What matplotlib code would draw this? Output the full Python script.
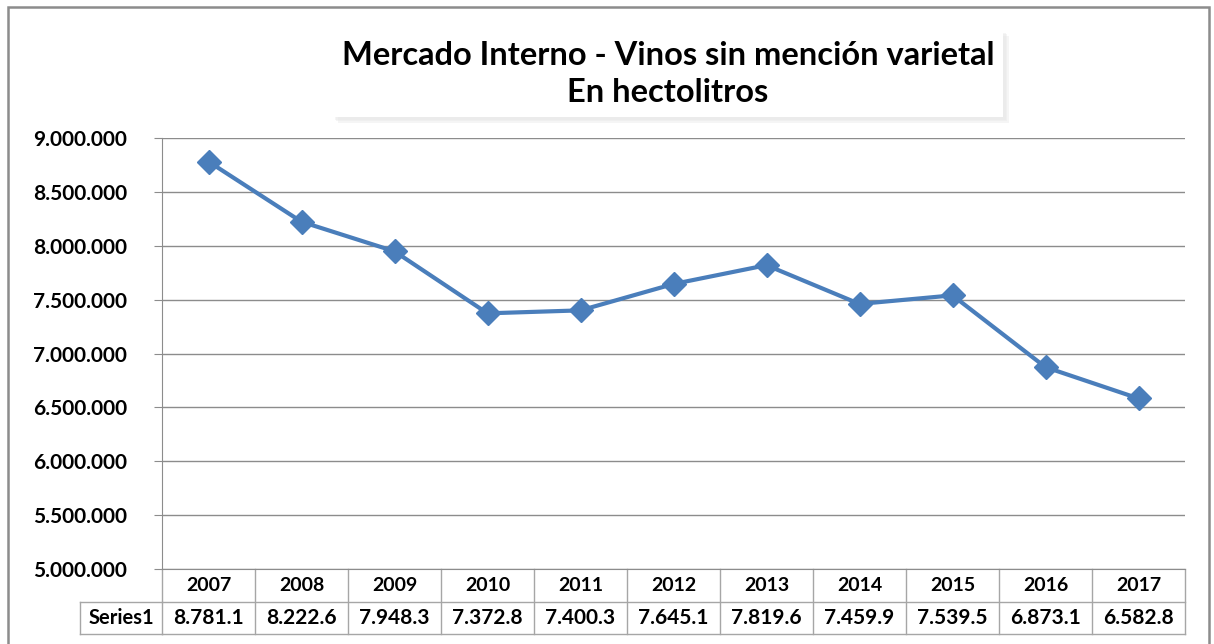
import matplotlib
matplotlib.use("Agg")
import matplotlib.pyplot as plt
import matplotlib.patheffects as pe
from matplotlib.patches import Rectangle
from matplotlib.ticker import FuncFormatter
import matplotlib.transforms as mtransforms

# Data
years = ["2007", "2008", "2009", "2010", "2011", "2012", "2013", "2014", "2015", "2016", "2017"]
values = [8781100, 8222600, 7948300, 7372800, 7400300, 7645100, 7819600, 7459900, 7539500, 6873100, 6582800]
table_labels = ["8.781.1", "8.222.6", "7.948.3", "7.372.8", "7.400.3", "7.645.1",
                "7.819.6", "7.459.9", "7.539.5", "6.873.1", "6.582.8"]
series_name = "Series1"
title_lines = "Mercado Interno - Vinos sin mención varietal\nEn hectolitros"

plt.rcParams['font.family'] = ['Lato', 'DejaVu Sans']

W, H = 1214, 644
fig = plt.figure(figsize=(W / 100, H / 100), dpi=100)

# outer chart border
fig.patches.append(Rectangle((8 / W, -0.02), 1201 / W, 1 - 7 / H + 0.02, transform=fig.transFigure,
                             fill=False, edgecolor="#8c8c8c", lw=1.8))

left, right, top, bottom = 162, 1185, 138, 569
ax = fig.add_axes([left / W, 1 - bottom / H, (right - left) / W, (bottom - top) / H])

x = list(range(len(years)))
ax.plot(x, values, color="#4A7EBB", lw=3, marker="D", markersize=12, zorder=3)

ax.set_xlim(-0.5, len(years) - 0.5)
ax.set_ylim(5000000, 9000000)
ax.set_yticks(range(5000000, 9000001, 500000))
ax.yaxis.set_major_formatter(FuncFormatter(lambda v, p: "{:,.0f}".format(v).replace(",", ".")))
ax.grid(axis="y", color="#8c8c8c", lw=1)
ax.set_axisbelow(True)
ax.tick_params(axis="y", length=6, color="#8c8c8c", labelsize=15, pad=19)
for lab in ax.get_yticklabels():
    lab.set_fontweight("bold")
ax.set_xticks([])
for s in ["top", "right"]:
    ax.spines[s].set_visible(False)
ax.spines["left"].set_color("#8c8c8c")
ax.spines["bottom"].set_color("#8c8c8c")

# data table below the axes
trans = mtransforms.blended_transform_factory(ax.transData, ax.transAxes)
ah = bottom - top
row1 = (602 - bottom) / ah
row2 = (634 - bottom) / ah
gc = "#a6a6a6"
n = len(years)
for i in range(n + 1):
    xe = i - 0.5
    ax.plot([xe, xe], [0, -row2], transform=trans, color=gc, lw=1, clip_on=False)
ax.plot([-0.5, n - 0.5], [-row1, -row1], transform=trans, color=gc, lw=1, clip_on=False)
ax.plot([-0.5, n - 0.5], [-row2, -row2], transform=trans, color=gc, lw=1, clip_on=False)
# series label cell
cell_w = (left - 80) / ((right - left) / n)
ax.plot([-0.5 - cell_w, -0.5], [-row1, -row1], transform=trans, color=gc, lw=1, clip_on=False)
ax.plot([-0.5 - cell_w, -0.5], [-row2, -row2], transform=trans, color=gc, lw=1, clip_on=False)
ax.plot([-0.5 - cell_w, -0.5 - cell_w], [-row1, -row2], transform=trans, color=gc, lw=1, clip_on=False)
ax.text(-0.5 - cell_w / 2, -(row1 + row2) / 2, series_name, transform=trans, ha="center", va="center",
        fontsize=14.5, fontweight="bold")
for i, (yr, lab) in enumerate(zip(years, table_labels)):
    ax.text(i, -row1 / 2, yr, transform=trans, ha="center", va="center", fontsize=14, fontweight="bold")
    ax.text(i, -(row1 + row2) / 2, lab, transform=trans, ha="center", va="center", fontsize=15,
            fontweight="bold")

# title box with soft shadow
shadow_fx = [pe.withSimplePatchShadow(offset=(o, -o), shadow_rgbFace="#e4e4e4", alpha=0.35)
             for o in (4, 3, 2)]
box = Rectangle((332 / W, 1 - 117 / H), (1003 - 332) / W, (117 - 30) / H, transform=fig.transFigure,
                facecolor="white", edgecolor="none", path_effects=shadow_fx + [pe.Normal()])
fig.patches.append(box)
fig.text(668 / W, 1 - 74 / H, title_lines, ha="center", va="center", fontsize=23.5, fontweight="bold",
         linespacing=1.3)

fig.savefig("out.png", dpi=100)
